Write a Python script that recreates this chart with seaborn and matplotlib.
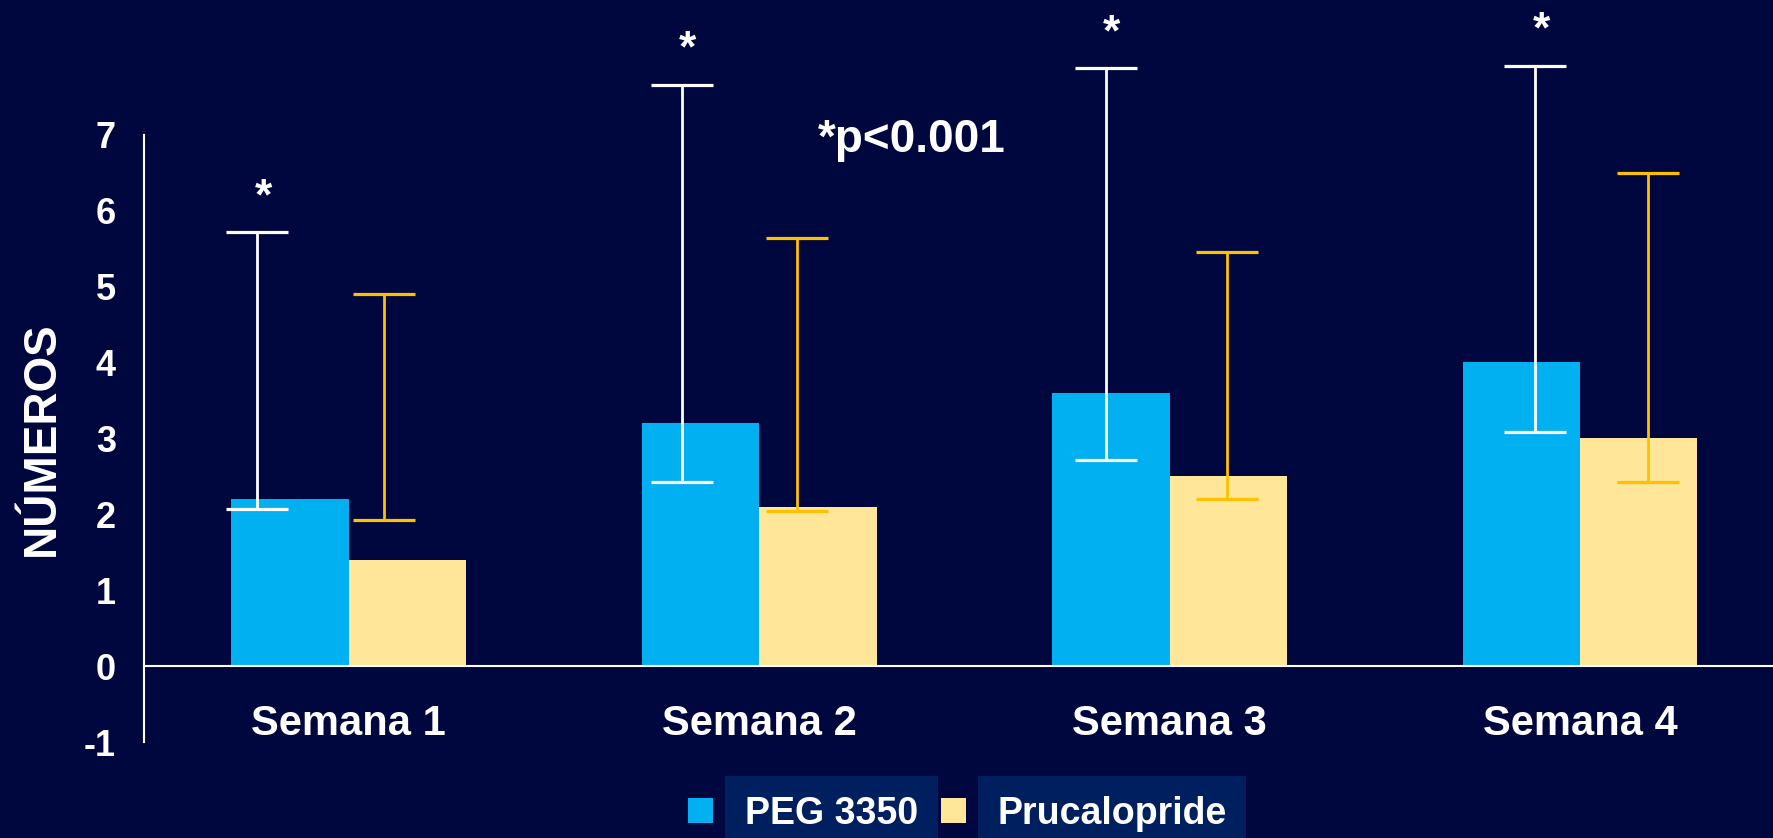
import matplotlib
matplotlib.use("Agg")
import matplotlib.pyplot as plt
import seaborn as sns
import pandas as pd
import numpy as np

# ---- data ----
weeks = ["Semana 1", "Semana 2", "Semana 3", "Semana 4"]
groups = ["PEG 3350", "Prucalopride"]
peg_mean = [2.2, 3.2, 3.6, 4.0]
pru_mean = [1.4, 2.1, 2.5, 3.0]
peg_low = [2.07, 2.43, 2.71, 3.08]
peg_high = [5.72, 7.66, 7.88, 7.91]
pru_low = [1.92, 2.04, 2.20, 2.43]
pru_high = [4.90, 5.64, 5.45, 6.49]
yticks = [-1, 0, 1, 2, 3, 4, 5, 6, 7]
sig_label = "*"
p_text = "*p<0.001"
ylabel = "NÚMEROS"

# ---- style ----
BG = "#00073F"
BLUE = "#00B0F0"
YELLOW = "#FFE699"
ERR_COLORS = ["#FFFFFF", "#FFC000"]
LEG_BOX = "#001F5F"
# error bars in the original are slightly shifted from bar centres (category units)
err_shift = [[-0.080, -0.045, -0.012, 0.034],
             [-0.058, -0.050, -0.003, 0.022]]

sns.set_theme(style="white")
plt.rcParams["font.family"] = ["Liberation Sans", "DejaVu Sans"]
plt.rcParams["font.weight"] = "bold"

df = pd.DataFrame({
    "week": weeks * 2,
    "group": [groups[0]] * 4 + [groups[1]] * 4,
    "value": peg_mean + pru_mean,
})

fig = plt.figure(figsize=(17.73, 8.38), dpi=100)
fig.patch.set_facecolor(BG)
ax = fig.add_axes([0, 0, 1, 1])
ax.set_facecolor(BG)

sns.barplot(data=df, x="week", y="value", hue="group", order=weeks,
            hue_order=groups, palette=[BLUE, YELLOW], width=0.572, gap=0,
            errorbar=None, saturation=1, ax=ax, legend=True, linewidth=0)

ax.set_xlim(-0.85, 3.47)
ax.set_ylim(-2.264, 8.773)

bar_containers = list(ax.containers)
lows = [peg_low, pru_low]
highs = [peg_high, pru_high]
for gi, cont in enumerate(bar_containers):
    for wi, p in enumerate(cont.patches):
        xc = p.get_x() + p.get_width() / 2 + err_shift[gi][wi]
        lo, hi = lows[gi][wi], highs[gi][wi]
        ax.errorbar([xc], [lo], yerr=[[0], [hi - lo]], fmt="none",
                    ecolor=ERR_COLORS[gi], elinewidth=2.0, capsize=22,
                    capthick=2.3, zorder=5)
        if gi == 0:
            ax.text(xc + 0.014, hi + 0.30, sig_label, ha="center",
                    va="baseline", color="white", fontsize=32,
                    fontweight="bold", zorder=6)

ax.text(1.371, 6.93, p_text, ha="center", va="center", color="white",
        fontsize=33, fontweight="bold")

# spines
for s in ["top", "right"]:
    ax.spines[s].set_visible(False)
ax.spines["left"].set_position(("data", -0.5))
ax.spines["left"].set_bounds(-1, 7)
ax.spines["bottom"].set_position(("data", 0))
ax.spines["bottom"].set_bounds(-0.5, 3.47)
for s in ["left", "bottom"]:
    ax.spines[s].set_color("white")
    ax.spines[s].set_linewidth(1.5)

ax.set_yticks(yticks)
ax.set_yticklabels([str(v) for v in yticks])
ax.tick_params(axis="y", colors="white", length=8, width=1.5, pad=12,
               labelsize=26)
ax.set_xticks(range(len(weeks)))
ax.set_xticklabels(weeks)
ax.tick_params(axis="x", which="major", length=0, pad=27, labelsize=30,
               colors="white")
ax.set_xticks([0.5, 1.5, 2.5], minor=True)
ax.tick_params(axis="x", which="minor", length=8, width=1.2, colors="white",
               direction="out")
for lab in ax.get_xticklabels() + ax.get_yticklabels():
    lab.set_fontweight("bold")

ax.set_xlabel("")
ax.set_ylabel(ylabel, color="white", fontsize=33, fontweight="bold")
ax.yaxis.set_label_coords(0.036, 0.4765)

# legend
handles, labels = ax.get_legend_handles_labels()
leg = ax.legend(handles, labels, loc="center", bbox_to_anchor=(0.540, 0.029),
                bbox_transform=fig.transFigure, ncol=2, frameon=False,
                fontsize=27, handlelength=0.68, handleheight=0.68,
                handletextpad=0.84, columnspacing=0.6)
for t in leg.get_texts():
    t.set_color("white")
    t.set_fontweight("bold")
    t.set_bbox(dict(facecolor=LEG_BOX, edgecolor="none", pad=14))

fig.savefig("out.png", dpi=100, facecolor=BG)
